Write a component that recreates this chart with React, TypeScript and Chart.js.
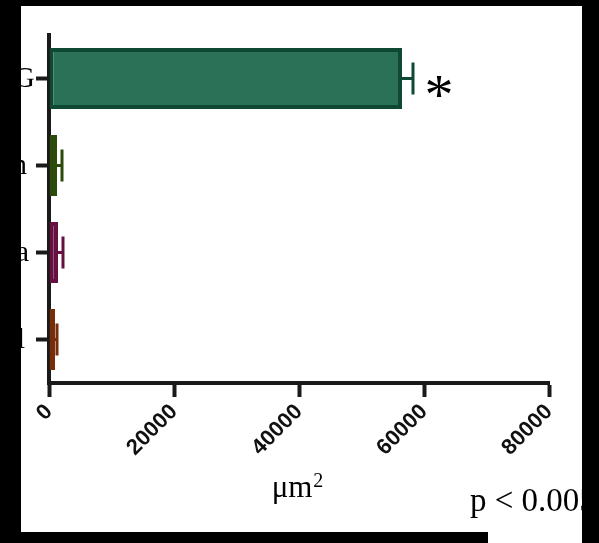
import React, { useEffect, useRef } from "react";
import { Chart, registerables } from "chart.js";

Chart.register(...registerables);

const categories = ["IgG", "Fibronectin", "Gelatina", "Control"];
const meanValues = [56480, 1280, 1440, 960];
const errorValues = [1760, 800, 800, 320];
const xTicks = [0, 20000, 40000, 60000, 80000];
const fillColors = ["#2b7158", "#3a5c14", "#7b1a4f", "#8a3a12"];
const borderColors = ["#0f4833", "#2c4a0c", "#651040", "#762d0a"];
const significance = ["*", "", "", ""];
const xAxisTitleBase = "μm";
const xAxisTitleSup = "2";
const pValueNote = "p < 0.005";

// style: right edge of each category label (labels are cropped by the frame)
const labelRightEdges = [35, 27, 29, 25];

const W = 599;
const H = 543;

const framePlugin = {
  id: "frame",
  beforeDraw(chart: any) {
    const ctx = chart.ctx;
    ctx.save();
    ctx.fillStyle = "#000";
    ctx.fillRect(0, 0, W, H);
    ctx.fillStyle = "#fff";
    ctx.fillRect(21, 6, 561, 526);
    ctx.fillRect(488, 532, 94, 11);
    ctx.restore();
  },
  afterDatasetsDraw(chart: any) {
    const ctx = chart.ctx;
    const meta = chart.getDatasetMeta(0);
    const xs = chart.scales.x;
    ctx.save();
    meta.data.forEach((bar: any, i: number) => {
      const y = bar.y;
      const x0 = xs.getPixelForValue(meanValues[i]);
      const x1 = xs.getPixelForValue(meanValues[i] + errorValues[i]);
      ctx.strokeStyle = borderColors[i];
      ctx.lineWidth = 3;
      ctx.beginPath();
      ctx.moveTo(x0, y);
      ctx.lineTo(x1, y);
      ctx.moveTo(x1, y - 16);
      ctx.lineTo(x1, y + 16);
      ctx.stroke();
      if (significance[i]) {
        ctx.fillStyle = "#000";
        ctx.font = '58px "Liberation Serif"';
        ctx.textAlign = "left";
        ctx.textBaseline = "alphabetic";
        const m = ctx.measureText(significance[i]);
        const cx = x1 + 26;
        const cy = y + 8;
        const tx = cx - (m.actualBoundingBoxRight - m.actualBoundingBoxLeft) / 2;
        const ty = cy + (m.actualBoundingBoxAscent - m.actualBoundingBoxDescent) / 2;
        ctx.fillText(significance[i], tx, ty);
      }
    });
    ctx.restore();
  },
  afterDraw(chart: any) {
    const ctx = chart.ctx;
    const ys = chart.scales.y;
    ctx.save();
    ctx.fillStyle = "#000";
    // category labels
    ctx.font = '30px "Liberation Serif"';
    ctx.textAlign = "right";
    ctx.textBaseline = "middle";
    categories.forEach((c, i) => {
      ctx.fillText(c, labelRightEdges[i], ys.getPixelForValue(i) + 1);
    });
    // axis title with superscript
    ctx.textBaseline = "alphabetic";
    ctx.textAlign = "left";
    ctx.font = '31px "Liberation Serif"';
    const baseW = ctx.measureText(xAxisTitleBase).width;
    ctx.font = '20px "Liberation Serif"';
    const supW = ctx.measureText(xAxisTitleSup).width;
    const startX = 297 - (baseW + supW) / 2;
    ctx.font = '31px "Liberation Serif"';
    ctx.fillText(xAxisTitleBase, startX, 497);
    ctx.font = '20px "Liberation Serif"';
    ctx.fillText(xAxisTitleSup, startX + baseW + 1, 487);
    // note
    ctx.font = '33px "Liberation Serif"';
    ctx.fillText(pValueNote, 470, 511);
    // black surround (crops text like the reference)
    ctx.fillRect(0, 0, 21, H);
    ctx.fillRect(0, 0, W, 6);
    ctx.fillRect(582, 0, W - 582, H);
    ctx.fillRect(21, 532, 467, H - 532);
    ctx.restore();
  },
};

export default function App() {
  const ref = useRef<HTMLCanvasElement>(null);
  useEffect(() => {
    if (!ref.current) return;
    const chart = new Chart(ref.current, {
      type: "bar",
      data: {
        labels: categories,
        datasets: [
          {
            data: meanValues,
            backgroundColor: fillColors,
            borderColor: borderColors,
            borderWidth: 4,
            borderSkipped: false,
            barThickness: 61,
            inflateAmount: 0,
          },
        ],
      },
      options: {
        indexAxis: "y",
        animation: false,
        responsive: false,
        devicePixelRatio: 1,
        layout: { padding: { top: 35, right: 50, left: 0, bottom: 0 } },
        plugins: { legend: { display: false }, tooltip: { enabled: false } },
        scales: {
          x: {
            type: "linear",
            min: 0,
            max: 80000,
            afterFit(scale: any) {
              scale.height = 160;
            },
            afterBuildTicks(scale: any) {
              scale.ticks = xTicks.map((v) => ({ value: v }));
            },
            grid: {
              drawOnChartArea: false,
              drawTicks: true,
              tickLength: 14,
              tickWidth: 4,
              tickColor: "#1a1a1a",
            },
            border: { display: true, width: 4, color: "#1a1a1a" },
            ticks: {
              minRotation: 45,
              maxRotation: 45,
              padding: 2,
              color: "#111",
              callback: (v: any) => String(v),
              font: { family: '"Liberation Sans", Arial, sans-serif', size: 22, weight: "bold" },
            },
          },
          y: {
            type: "category",
            afterFit(scale: any) {
              scale.width = 49;
            },
            grid: {
              offset: false,
              drawOnChartArea: false,
              drawTicks: true,
              tickLength: 13,
              tickWidth: 4,
              tickColor: "#1a1a1a",
            },
            border: { display: true, width: 4, color: "#1a1a1a" },
            ticks: { display: false },
          },
        },
      },
      plugins: [framePlugin],
    } as any);
    return () => chart.destroy();
  }, []);
  return (
    <div style={{ position: "fixed", left: 0, top: 0, width: W, height: H, background: "#000" }}>
      <canvas ref={ref} width={W} height={H} style={{ display: "block", width: W, height: H }} />
    </div>
  );
}
